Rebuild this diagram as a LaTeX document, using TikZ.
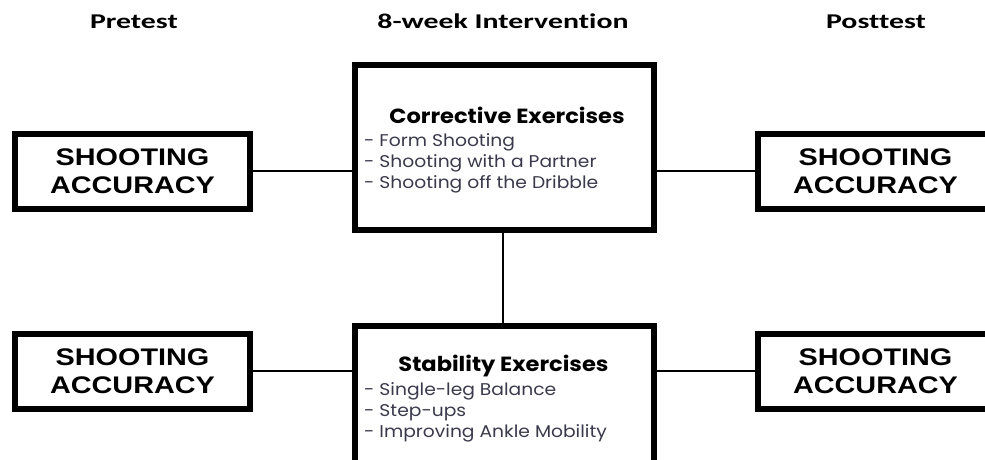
\documentclass[tikz,border=0pt]{standalone}
\usepackage{fontspec}
\newfontfamily\headfont[FakeStretch=1.42,Ligatures=NoCommon]{Carlito}
\newfontfamily\boxfont[FakeStretch=1.2]{Liberation Sans}
\newfontfamily\inner[FakeStretch=1.1]{Poppins}
\newfontfamily\inneritem[FakeStretch=1.1]{Poppins}
\definecolor{itemcol}{HTML}{3A3A4C}
\tikzset{
  x=1pt,y=-1pt,
  outbox/.style={draw=black,line width=6pt,minimum width=235pt,minimum height=75pt,inner sep=0pt,fill=white,
     font=\boxfont\bfseries\fontsize{24}{28}\selectfont,align=center},
  midbox/.style={draw=black,line width=6pt,minimum width=299pt,minimum height=165pt,inner sep=0pt,fill=white},
  head/.style={font=\headfont\bfseries\fontsize{21}{24}\selectfont,anchor=base},
  ttl/.style={font=\inner\bfseries\fontsize{20.5}{24}\selectfont,anchor=base},
  items/.style={font=\inneritem\fontsize{17}{21.2}\selectfont,text=itemcol,align=left,anchor=north west,inner sep=0pt},
  conn/.style={line width=2pt,draw=black}
}
\begin{document}
\begin{tikzpicture}
\useasboundingbox (0,0) rectangle (985,460);
\clip (0,0) rectangle (985,460);
\fill[white] (0,0) rectangle (985,460);
\node[head] (h1) at (134,28.5) {Pretest};
\node[head] (h2) at (503,28.5) {8-week Intervention};
\node[head] (h3) at (876,28.5) {Posttest};
\node[outbox] (l1) at (132.5,171) {SHOOTING\\ACCURACY};
\node[outbox] (r1) at (875.5,171) {SHOOTING\\ACCURACY};
\node[outbox] (l2) at (132.5,371) {SHOOTING\\ACCURACY};
\node[outbox] (r2) at (875.5,371) {SHOOTING\\ACCURACY};
\node[midbox] (c1) at (504.5,147.5) {};
\node[midbox] (c2) at (504,408.5) {};
\draw[conn] (l1.east) -- (c1.west |- l1.east);
\draw[conn] (c1.east |- r1.west) -- (r1.west);
\draw[conn] (l2.east) -- (c2.west |- l2.east);
\draw[conn] (c2.east |- r2.west) -- (r2.west);
\draw[conn] (c1.south -| 503,0) -- (c2.north -| 503,0);
\node[ttl] (t1) at (507,123.5) {Corrective Exercises};
\node[items] (i1) at (364,133) {- Form Shooting\\- Shooting with a Partner\\- Shooting off the Dribble};
\node[ttl] (t2) at (503.5,371) {Stability Exercises};
\node[items] (i2) at (364,382) {- Single-leg Balance\\- Step-ups\\- Improving Ankle Mobility};
\end{tikzpicture}
\end{document}
